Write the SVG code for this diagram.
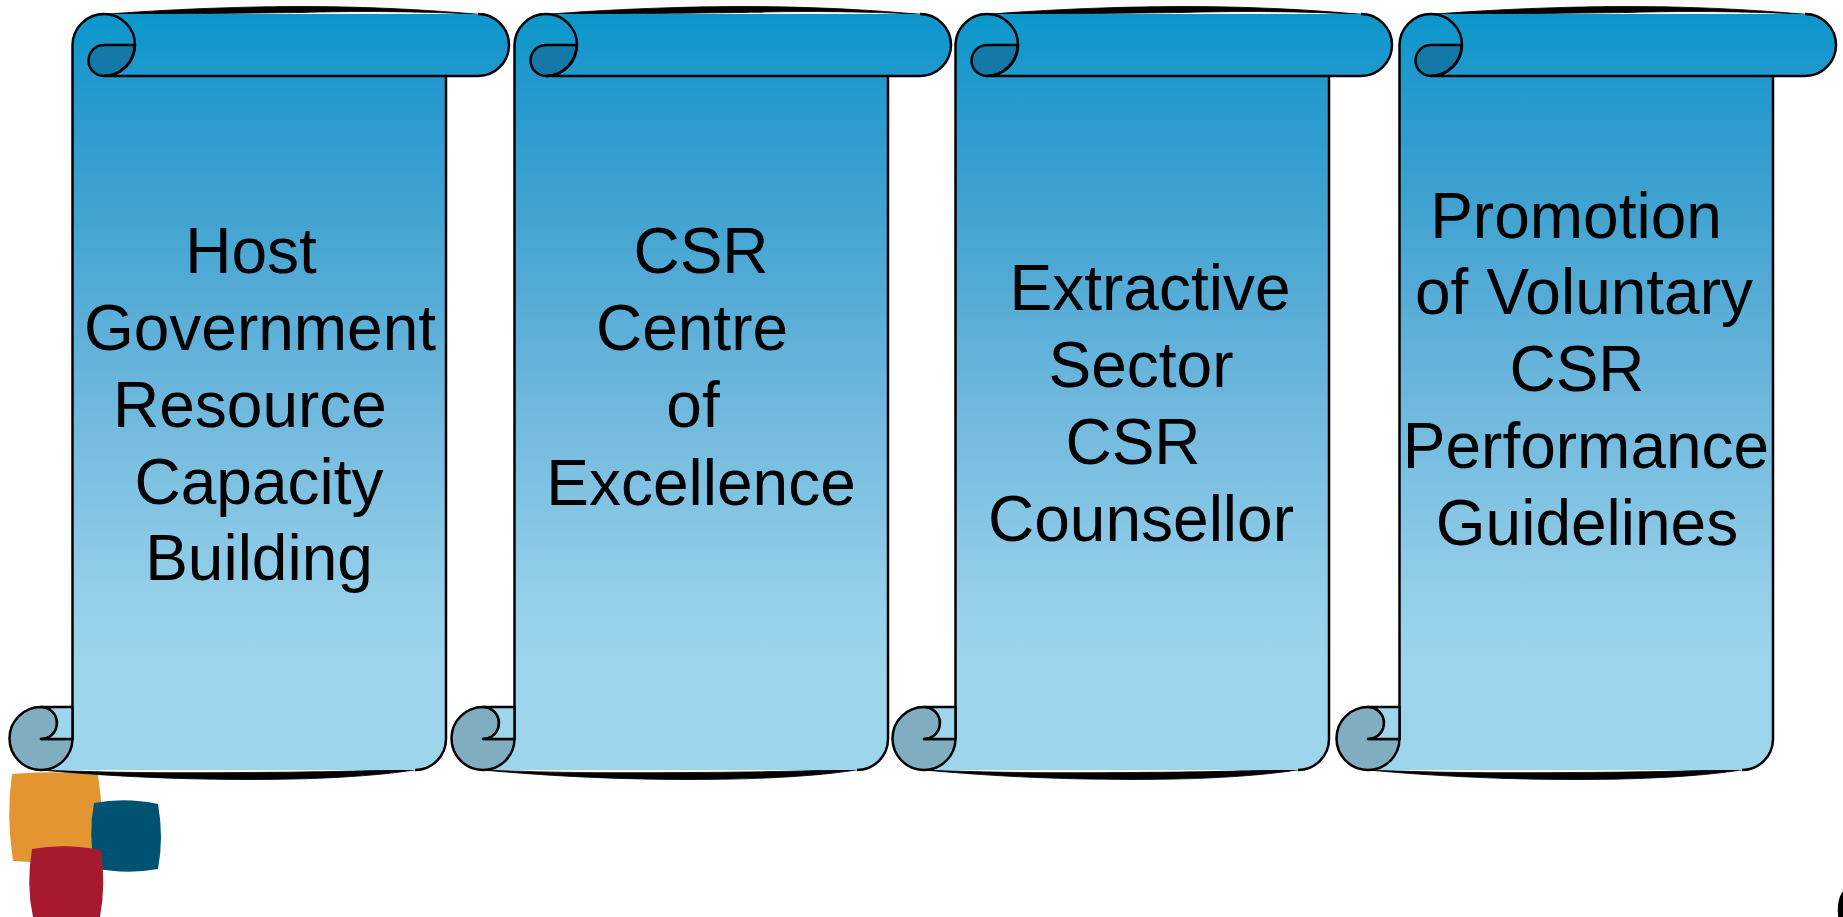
<svg xmlns="http://www.w3.org/2000/svg" width="1843" height="917" viewBox="0 0 1843 917">
<defs>
<linearGradient id="g" gradientUnits="userSpaceOnUse" x1="0" y1="14" x2="0" y2="770">
<stop offset="0" stop-color="#0b97cb"/><stop offset="0.1" stop-color="#2599ce"/><stop offset="0.25" stop-color="#3fa2d0"/><stop offset="0.5" stop-color="#6cb6dc"/><stop offset="0.76" stop-color="#93cee9"/><stop offset="0.87" stop-color="#9dd6ec"/><stop offset="1" stop-color="#9dd6ec"/>
</linearGradient>
<g id="scroll">
<path d="M96 15C180 8 260 6.500 300 6.500C360 6.500 420 9 480 14.500C420 11 350 11 300 12.500C220 13.500 150 14 96 15Z" fill="#000" stroke="#000" stroke-width="0.800"/>
<path d="M41 770C120 773 170 773 250 772.500C320 772 370 771 420 769C380 776 320 779.500 250 779.500C170 779.500 100 775.500 41 770Z" fill="#000" stroke="#000" stroke-width="0.800"/>
<path class="f" d="M72.500 739V45A31 31 0 0 1 104 14H478A31 31 0 0 1 478 76H446V739A31 31 0 0 1 415 770H41A31.500 31.500 0 0 0 72.500 739Z"/>
<path class="s" d="M104 14A31.500 31.500 0 0 0 72.500 45V739"/>
<path class="s" d="M478 14A31 31 0 0 1 478 76H446V739A31 31 0 0 1 415 770"/>
<path class="gray" d="M41 707A31.500 31.500 0 1 0 72.500 739H41A16 16 0 0 0 41 707Z"/>
<path class="pale" d="M41 707H72.500V739H41A16 16 0 0 0 41 707Z"/>
<path class="dark" d="M104 76A15.500 15.500 0 0 1 104 45H134.500A31 31 0 0 1 104 76Z"/>
<path class="s" d="M104 14A31 31 0 0 1 104 76H446"/>
</g>
</defs>
<style>
.f{fill:url(#g)}
.s{fill:none;stroke:#000;stroke-width:2.500;stroke-linejoin:round}
.gray,.pale,.dark{stroke:#000;stroke-width:2.500;stroke-linejoin:round}
.gray{fill:#80aec0}
.pale{fill:#9dd6ec}
.dark{fill:#1479a6}
text{font-family:"Liberation Sans",Arial,sans-serif;font-size:64px;fill:#000;text-anchor:middle}
</style>
<g id="logo">
<path d="M12 774Q55 770 98 775Q105 820 100 860Q55 864 13 861Q6 815 12 774Z" fill="#e29530"/>
<path d="M94 803Q125 797 158 804Q164 838 158 869Q125 875 95 868Q88 835 94 803Z" fill="#005273"/>
<path d="M32 849Q65 843 101 850Q106 885 100 917H33Q26 885 32 849Z" fill="#a6192e"/>
</g>
<g id="node1"><use href="#scroll"/>
<text x="251" y="273">Host</text><text x="260" y="350">Government</text><text x="250" y="427">Resource</text><text x="259" y="504">Capacity</text><text x="259" y="580">Building</text></g>
<g id="node2"><use href="#scroll" x="442"/>
<text x="701" y="273">CSR</text><text x="692" y="350">Centre</text><text x="693" y="427">of</text><text x="701" y="504.500">Excellence</text></g>
<g id="node3"><use href="#scroll" x="883"/>
<text x="1150" y="310">Extractive</text><text x="1141" y="387">Sector</text><text x="1133" y="464">CSR</text><text x="1141" y="541">Counsellor</text></g>
<g id="node4"><use href="#scroll" x="1327"/>
<text x="1576" y="237.500">Promotion</text><text x="1584" y="314">of Voluntary</text><text x="1577" y="391">CSR</text><text x="1586" y="468">Performance</text><text x="1587" y="545">Guidelines</text></g>
<text id="page" x="1834.500" y="932" style="text-anchor:start">6</text>
<g id="connectors"/>
</svg>
